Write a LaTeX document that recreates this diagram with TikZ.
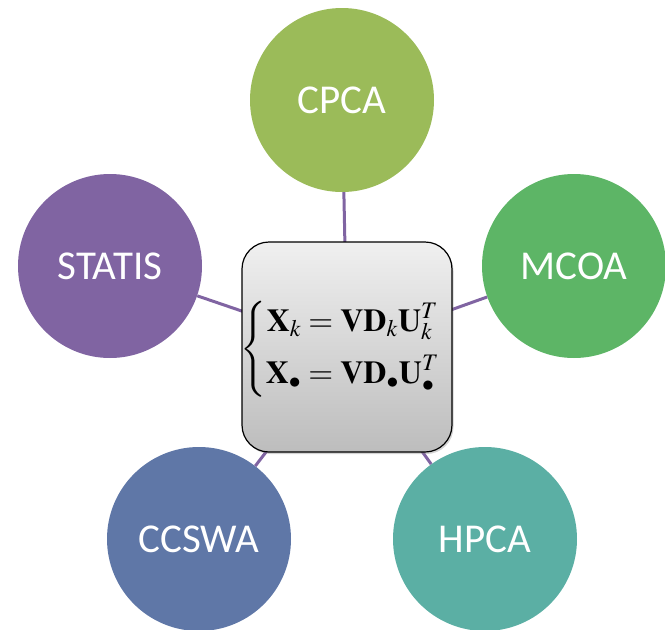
\documentclass[tikz,border=0pt]{standalone}
\usepackage{amsmath}
\usepackage{mathptmx}
\usepackage[no-math]{fontspec}
\newfontfamily\calib{Carlito}
\usetikzlibrary{shadows}
\definecolor{cpca}{HTML}{9BBB59}
\definecolor{mcoa}{HTML}{5DB566}
\definecolor{hpca}{HTML}{5BAFA4}
\definecolor{ccswa}{HTML}{5F77A7}
\definecolor{statis}{HTML}{8064A2}
\definecolor{linkc}{HTML}{8064A2}
\begin{document}
\begin{tikzpicture}[x=1pt,y=-1pt,
  method/.style={circle,minimum size=184pt,inner sep=0pt,text=white,
    font=\calib\fontsize{41}{48}\selectfont},
  link/.style={draw=linkc,line width=3pt},
  core/.style={draw=black,line width=1.2pt,rounded corners=27pt,
    minimum width=210pt,minimum height=210pt,inner sep=0pt,
    top color=white!94!black,bottom color=white!74!black,
    drop shadow={opacity=0.35,shadow xshift=1.5pt,shadow yshift=-2pt}}]
\useasboundingbox (0,0) rectangle (665,630);
\coordinate (mid) at (347,347);
\node[method,fill=cpca] (cpca) at (342,100) {CPCA};
\node[method,fill=statis] (statis) at (110,266) {STATIS};
\node[method,fill=mcoa] (mcoa) at (574,266) {MCOA};
\node[method,fill=ccswa] (ccswa) at (199,539) {CCSWA};
\node[method,fill=hpca] (hpca) at (485,539) {HPCA};
\draw[link] (cpca) -- (mid);
\draw[link] (statis) -- (mid);
\draw[link] (mcoa) -- (mid);
\draw[link] (ccswa) -- (mid);
\draw[link] (hpca) -- (mid);
\node[core] (box) at (mid) {};
\node (eq) at (340,349) {\fontsize{32}{38}\selectfont
  $\left\{\begin{aligned}
  \mathbf{X}_k &= \mathbf{V}\mathbf{D}_k\mathbf{U}_k^T\\[8pt]
  \mathbf{X}_\bullet &= \mathbf{V}\mathbf{D}_\bullet\mathbf{U}_\bullet^T
  \end{aligned}\right.$};
\end{tikzpicture}
\end{document}
